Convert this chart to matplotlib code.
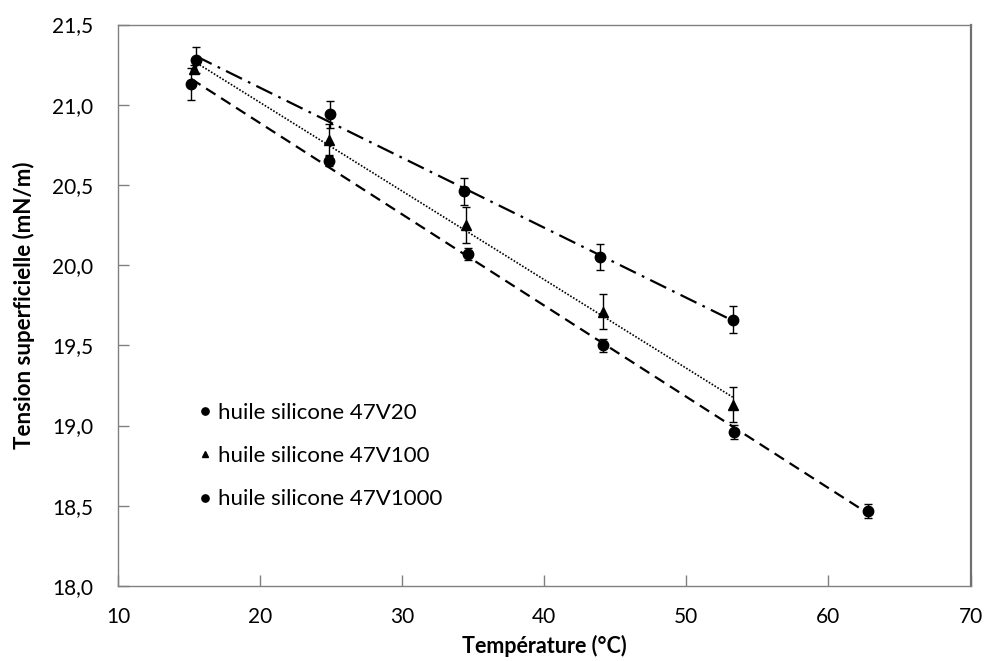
import numpy as np
import matplotlib
matplotlib.use("Agg")
import matplotlib.pyplot as plt
from matplotlib.ticker import FuncFormatter, MultipleLocator

plt.rcParams['font.family'] = ['Lato', 'DejaVu Sans']

# Data
x_v20 = [15.15, 24.86, 34.6, 44.15, 53.33, 62.77]
y_v20 = [21.13, 20.65, 20.07, 19.50, 18.96, 18.47]
e_v20 = [0.10, 0.035, 0.035, 0.04, 0.042, 0.044]

x_v100 = [15.35, 24.87, 34.48, 44.1, 53.26]
y_v100 = [21.22, 20.78, 20.25, 19.71, 19.13]
e_v100 = [0.025, 0.10, 0.11, 0.11, 0.11]

x_v1000 = [15.47, 24.93, 34.32, 43.9, 53.31]
y_v1000 = [21.28, 20.94, 20.46, 20.05, 19.66]
e_v1000 = [0.08, 0.085, 0.085, 0.083, 0.086]

labels = ["huile silicone 47V20", "huile silicone 47V100", "huile silicone 47V1000"]
x_label = "Température (°C)"
y_label = "Tension superficielle (mN/m)"

fig = plt.figure(figsize=(9.86, 6.61), dpi=100)
ax = fig.add_axes([118/986, 1-586/661, (970.5-118)/986, (586-24.5)/661])

series = [
    (x_v20, y_v20, e_v20, 'o', (0, (5, 3)), 1.6, labels[0]),
    (x_v100, y_v100, e_v100, '^', (0, (1, 1)), 1.2, labels[1]),
    (x_v1000, y_v1000, e_v1000, 'o', (0, (8, 3, 1.2, 3)), 1.6, labels[2]),
]

handles = []
for xs, ys, es, mk, ls, lw, lab in series:
    xs = np.array(xs); ys = np.array(ys)
    p = np.polyfit(xs, ys, 1)
    xx = np.array([xs.min(), xs.max()])
    ax.plot(xx, np.polyval(p, xx), color='black', linestyle=ls, lw=lw, zorder=2)
    ax.errorbar(xs, ys, yerr=es, fmt='none', ecolor='black', elinewidth=1.0,
                capsize=2.8, capthick=1.0, zorder=3)
    h, = ax.plot(xs, ys, linestyle='none', marker=mk, color='black',
                 markersize=7.5 if mk == 'o' else 7, zorder=4, label=lab)
    handles.append(h)

ax.set_xlim(10, 70)
ax.set_ylim(18.0, 21.5)
ax.xaxis.set_major_locator(MultipleLocator(10))
ax.yaxis.set_major_locator(MultipleLocator(0.5))
ax.yaxis.set_major_formatter(FuncFormatter(lambda v, pos: f"{v:.1f}".replace('.', ',')))

ax.tick_params(axis='y', direction='in', length=8, width=1, color='#808080',
               labelsize=15, pad=18)
ax.tick_params(axis='x', direction='in', length=8, width=1, color='#808080',
               labelsize=15, pad=15)

for s in ['left', 'bottom', 'top']:
    ax.spines[s].set_color('#808080')
    ax.spines[s].set_linewidth(1.0)
ax.spines['right'].set_color('#707070')
ax.spines['right'].set_linewidth(1.6)

ax.set_xlabel(x_label, fontsize=15.5, fontweight='bold', labelpad=6)
ax.set_ylabel(y_label, fontsize=16, fontweight='bold', labelpad=12)

leg = ax.legend(handles=handles, loc='center left', bbox_to_anchor=(0.0938, 0.2315),
                frameon=False, fontsize=16, handlelength=0.6, handletextpad=0.32,
                labelspacing=1.05, markerscale=0.7, borderpad=0, borderaxespad=0)

fig.savefig("out.png", dpi=100)
